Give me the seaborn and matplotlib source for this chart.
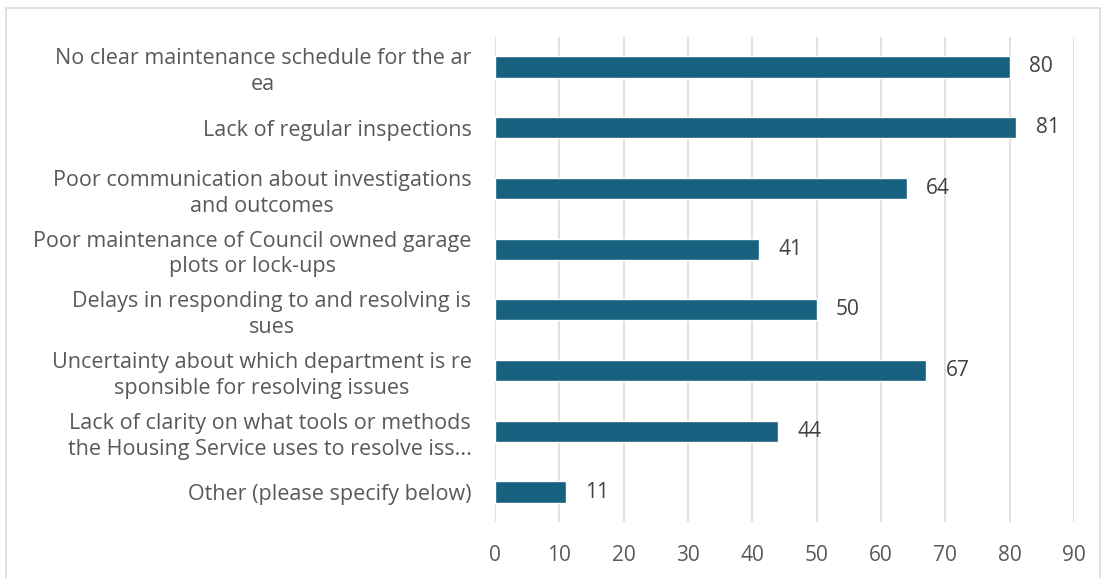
import matplotlib.pyplot as plt
import seaborn as sns
import pandas as pd
from matplotlib.patches import Rectangle

categories = [
    "No clear maintenance schedule for the ar\nea",
    "Lack of regular inspections",
    "Poor communication about investigations\nand outcomes",
    "Poor maintenance of Council owned garage\nplots or lock-ups",
    "Delays in responding to and resolving is\nsues",
    "Uncertainty about which department is re\nsponsible for resolving issues",
    "Lack of clarity on what tools or methods\nthe Housing Service uses to resolve iss...",
    "Other (please specify below)",
]
counts = [80, 81, 64, 41, 50, 67, 44, 11]
x_ticks = [0, 10, 20, 30, 40, 50, 60, 70, 80, 90]

BAR_COLOR = "#17607F"
TEXT_COLOR = "#595959"
GRID_COLOR = "#D9D9D9"

sns.set_theme(style="white")
plt.rcParams["font.family"] = ["Open Sans", "DejaVu Sans"]

df = pd.DataFrame({"category": categories, "count": counts})

fig = plt.figure(figsize=(11.04, 5.78), dpi=100)
ax = fig.add_axes([0.4484, 0.0962, 0.5244, 0.8405])

sns.barplot(
    data=df, x="count", y="category", orient="h",
    color=BAR_COLOR, width=0.35, saturation=1, ax=ax,
)

for container in ax.containers:
    ax.bar_label(container, padding=14, fontsize=15, color="#404040")

ax.set_xlim(0, 90)
ax.set_xticks(x_ticks)
ax.set_xlabel("")
ax.set_ylabel("")
ax.grid(axis="x", color=GRID_COLOR, linewidth=1.1)
ax.set_axisbelow(True)
for spine in ax.spines.values():
    spine.set_visible(False)

ax.tick_params(axis="x", length=0, pad=16, labelsize=15, labelcolor=TEXT_COLOR)
ax.tick_params(axis="y", length=0, pad=17, labelsize=15.5, labelcolor=TEXT_COLOR)
for lbl in ax.get_yticklabels():
    lbl.set_multialignment("center")
    lbl.set_linespacing(1.3)

# light outer chart border
fig.patches.append(Rectangle(
    (0.005, -0.01), 0.991, 0.996, transform=fig.transFigure,
    fill=False, edgecolor="#D9D9D9", linewidth=1.2,
))

fig.savefig("out.png", dpi=100, facecolor="white")
